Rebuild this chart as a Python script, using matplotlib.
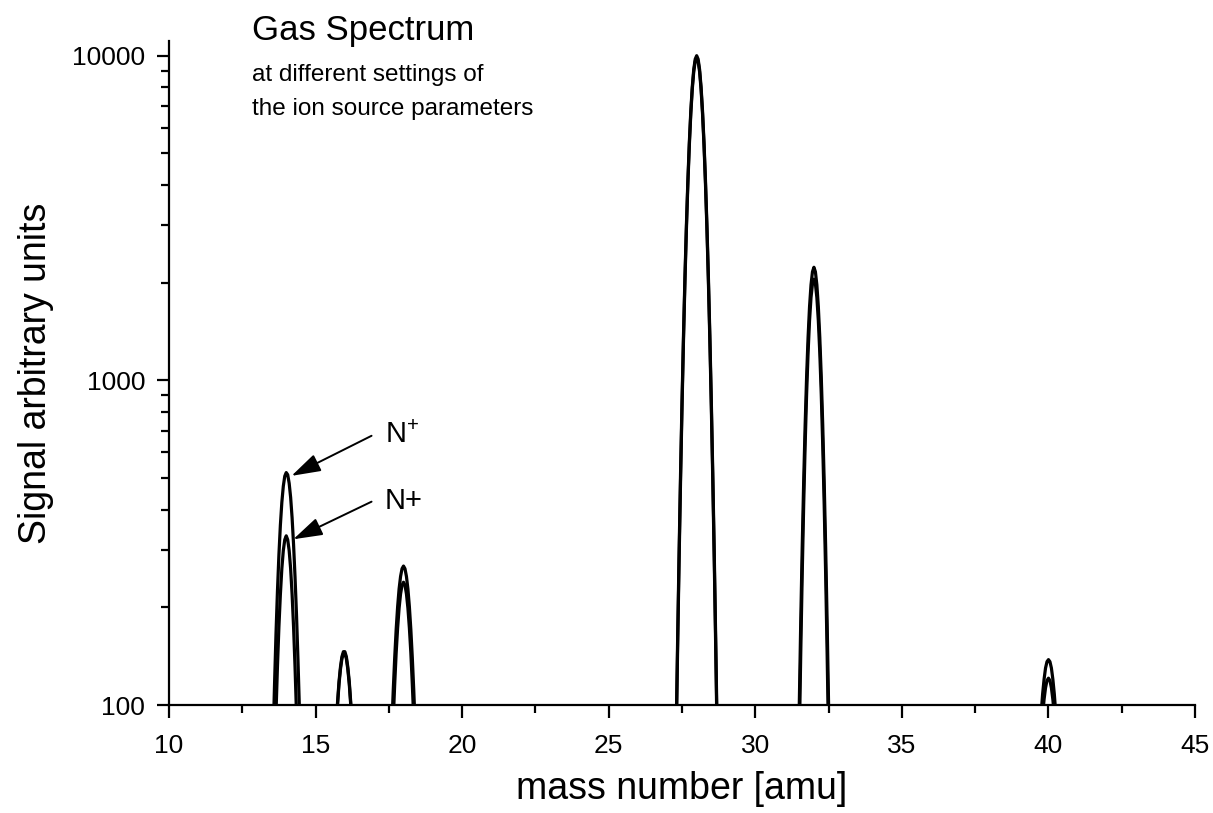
import matplotlib
matplotlib.use('Agg')
import matplotlib.pyplot as plt
from matplotlib.ticker import FixedLocator, MultipleLocator, NullFormatter

plt.rcParams['font.family'] = ['Liberation Sans', 'DejaVu Sans']
plt.rcParams['mathtext.default'] = 'regular'

# mass channels around each peak (amu)
mass = [13.50, 13.55, 13.60, 13.65, 13.70, 13.75, 13.80, 13.85, 13.90, 13.95, 14.00,
        14.05, 14.10, 14.15, 14.20, 14.25, 14.30, 14.35, 14.40, 14.45, 14.50,
        15.70, 15.75, 15.80, 15.85, 15.90, 15.95, 16.00, 16.05, 16.10, 16.15, 16.20, 16.25, 16.30,
        17.55, 17.60, 17.65, 17.70, 17.75, 17.80, 17.85, 17.90, 17.95, 18.00,
        18.05, 18.10, 18.15, 18.20, 18.25, 18.30, 18.35, 18.40, 18.45,
        27.30, 27.35, 27.40, 27.45, 27.50, 27.55, 27.60, 27.65, 27.70, 27.75, 27.80, 27.85, 27.90, 27.95, 28.00,
        28.05, 28.10, 28.15, 28.20, 28.25, 28.30, 28.35, 28.40, 28.45, 28.50, 28.55, 28.60, 28.65, 28.70,
        31.45, 31.50, 31.55, 31.60, 31.65, 31.70, 31.75, 31.80, 31.85, 31.90, 31.95, 32.00,
        32.05, 32.10, 32.15, 32.20, 32.25, 32.30, 32.35, 32.40, 32.45, 32.50, 32.55,
        39.70, 39.75, 39.80, 39.85, 39.90, 39.95, 40.00, 40.05, 40.10, 40.15, 40.20, 40.25, 40.30]

# first setting of the ion source
signal_a = [50, 78, 115, 165, 224, 290, 358, 421, 472, 507, 520,
            512, 482, 436, 377, 312, 248, 190, 138, 97, 65,
            86, 102, 118, 131, 141, 146, 146, 141, 131, 118, 102, 86, 70,
            62, 85, 111, 140, 171, 201, 228, 249, 263, 268,
            263, 249, 228, 201, 171, 140, 111, 85, 62,
            82, 158, 293, 515, 861, 1372, 2082, 3007, 4137, 5417, 6753, 8017, 9066, 9758, 10000,
            9758, 9066, 8017, 6753, 5417, 4137, 3007, 2082, 1372, 861, 515, 293, 158, 82,
            52, 100, 181, 306, 487, 729, 1026, 1356, 1686, 1968, 2160, 2230,
            2160, 1968, 1686, 1356, 1026, 729, 487, 306, 181, 100, 52,
            80, 94, 108, 120, 130, 136, 138, 136, 130, 120, 108, 94, 80]

# second setting of the ion source
signal_b = [25, 41, 63, 94, 131, 174, 219, 263, 299, 323, 332,
            323, 299, 263, 219, 174, 131, 94, 63, 41, 25,
            84, 100, 116, 129, 139, 144, 144, 139, 129, 116, 100, 84, 68,
            47, 67, 90, 116, 145, 173, 199, 220, 234, 239,
            234, 220, 199, 173, 145, 116, 90, 67, 47,
            76, 149, 277, 489, 824, 1320, 2013, 2920, 4032, 5297, 6622, 7877, 8921, 9607, 9850,
            9607, 8921, 7877, 6622, 5297, 4032, 2920, 2013, 1320, 824, 489, 277, 149, 76,
            39, 77, 144, 252, 412, 630, 904, 1214, 1527, 1798, 1984, 2050,
            1984, 1798, 1527, 1214, 904, 630, 412, 252, 144, 77, 39,
            67, 80, 93, 104, 113, 119, 121, 119, 113, 104, 93, 80, 67]

x_ticks = [10, 15, 20, 25, 30, 35, 40, 45]
y_ticks = [100, 1000, 10000]
y_labels = ['100', '1000', '10000']

fig = plt.figure(figsize=(12.13, 8.13), dpi=100)
ax = fig.add_axes([0.1393, 0.1328, 0.8459, 0.8168])

ax.plot(mass, signal_a, color='black', lw=2.3, solid_joinstyle='round')
ax.plot(mass, signal_b, color='black', lw=2.3, solid_joinstyle='round')

ax.set_yscale('log')
ax.set_xlim(10, 45)
ax.set_ylim(100, 11100)

ax.xaxis.set_major_locator(FixedLocator(x_ticks))
ax.xaxis.set_minor_locator(MultipleLocator(2.5))
ax.set_xticklabels([str(t) for t in x_ticks])
ax.yaxis.set_major_locator(FixedLocator(y_ticks))
ax.set_yticklabels(y_labels)
ax.yaxis.set_minor_locator(FixedLocator([m * d for d in (100, 1000) for m in range(2, 10)]))
ax.yaxis.set_minor_formatter(NullFormatter())

for s in ['top', 'right']:
    ax.spines[s].set_visible(False)
for s in ['left', 'bottom']:
    ax.spines[s].set_linewidth(1.6)

ax.tick_params(which='major', direction='out', length=9, width=1.6, labelsize=19)
ax.tick_params(axis='x', which='major', pad=12)
ax.tick_params(axis='y', which='major', pad=8)
ax.tick_params(which='minor', direction='out', length=5.5, width=1.6)

ax.set_xlabel('mass number [amu]', fontsize=27)
ax.xaxis.set_label_coords(0.5, -0.1)
ax.set_ylabel('Signal arbitrary units', fontsize=27)
ax.yaxis.set_label_coords(-0.112, 0.5)

fig.text(0.2077, 0.9508, 'Gas Spectrum', fontsize=25, va='baseline')
fig.text(0.2077, 0.8998, 'at different settings of', fontsize=17.5, va='baseline')
fig.text(0.2077, 0.8585, 'the ion source parameters', fontsize=17.5, va='baseline')

arrow = dict(arrowstyle='-|>,head_length=0.9,head_width=0.28', mutation_scale=20,
             lw=1.4, color='black', shrinkA=0, shrinkB=0)
ax.annotate('', xy=(14.18, 508), xytext=(16.91, 675), arrowprops=arrow)
ax.annotate('', xy=(14.24, 324), xytext=(16.91, 423), arrowprops=arrow)
ax.text(17.36, 642, r'N$^{+}$', fontsize=21, va='baseline')
ax.text(17.36, 402, 'N+', fontsize=21, va='baseline')

fig.savefig('out.png', dpi=100)
